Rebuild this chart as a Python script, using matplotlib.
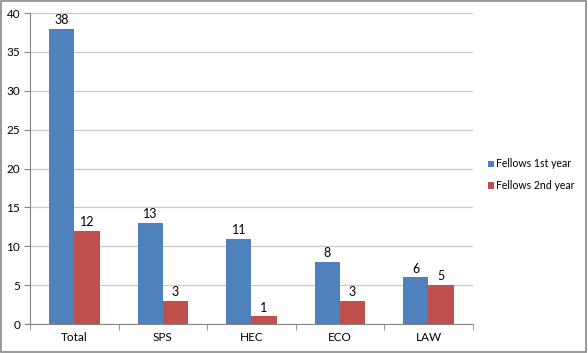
import matplotlib.pyplot as plt
import numpy as np

categories = ['Total', 'SPS', 'HEC', 'ECO', 'LAW']
first_year = [38, 13, 11, 8, 6]
second_year = [12, 3, 1, 3, 5]

plt.rcParams['font.family'] = ['Lato', 'DejaVu Sans']
plt.rcParams['font.size'] = 8.5

fig = plt.figure(figsize=(5.88, 3.53), dpi=100)
ax = fig.add_axes([0.051, 0.082, 0.753, 0.881])

x = np.arange(len(categories))
w = 0.285
b1 = ax.bar(x - w / 2, first_year, w, color='#4F81BD', label='Fellows 1st year')
b2 = ax.bar(x + w / 2, second_year, w, color='#C0504D', label='Fellows 2nd year')
ax.bar_label(b1, padding=2, fontsize=9)
ax.bar_label(b2, padding=2, fontsize=9)

ax.set_xlim(-0.5, len(categories) - 0.5)
ax.set_ylim(0, 40)
ax.set_yticks(range(0, 41, 5))
ax.set_xticks(x)
ax.set_xticklabels(categories)
ax.set_xticks(np.arange(-0.5, len(categories)), minor=True)
ax.tick_params(axis='x', which='major', length=0, pad=6)
ax.tick_params(axis='x', which='minor', length=4, color='#868686', direction='out')
ax.tick_params(axis='y', length=4, color='#868686', pad=3)
ax.yaxis.grid(True, color='#C8C8C8', linewidth=0.9)
ax.set_axisbelow(True)
for s in ['top', 'right']:
    ax.spines[s].set_visible(False)
for s in ['left', 'bottom']:
    ax.spines[s].set_color('#868686')

ax.legend(loc='center left', bbox_to_anchor=(1.02, 0.48), frameon=False,
          handlelength=0.55, handleheight=0.55, handletextpad=0.25,
          labelspacing=1.0, fontsize=7.6, borderaxespad=0.2)

fig.patches.append(plt.Rectangle((0.002, 0.003), 0.995, 0.994, transform=fig.transFigure,
                                 fill=False, edgecolor='#888888', linewidth=1.2))
fig.savefig('out.png', dpi=100)
